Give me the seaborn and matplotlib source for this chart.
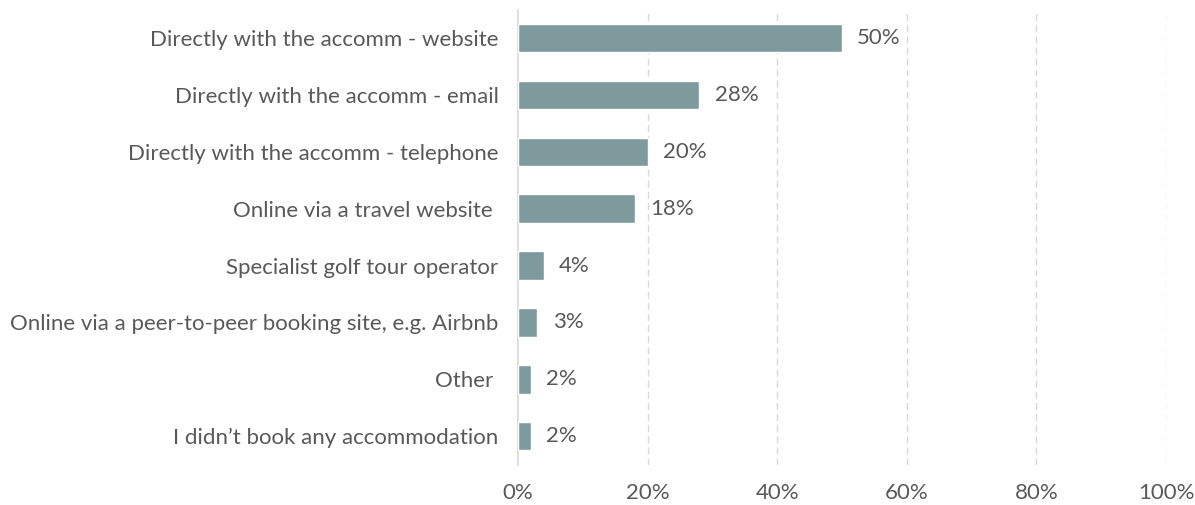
import matplotlib
matplotlib.use("Agg")
import matplotlib.pyplot as plt
import matplotlib.ticker as mticker
import seaborn as sns
import pandas as pd

categories = [
    "Directly with the accomm - website",
    "Directly with the accomm - email",
    "Directly with the accomm - telephone",
    "Online via a travel website ",
    "Specialist golf tour operator",
    "Online via a peer-to-peer booking site, e.g. Airbnb",
    "Other ",
    "I didn\u2019t book any accommodation",
]
values = [50, 28, 20, 18, 4, 3, 2, 2]
x_ticks = [0, 20, 40, 60, 80, 100]

df = pd.DataFrame({"channel": categories, "share": values})

sns.set_theme(style="white")
plt.rcParams["font.family"] = ["Lato", "DejaVu Sans"]

text_color = "#595959"
bar_color = "#7F9A9D"
grid_color = "#D9D9D9"

fig = plt.figure(figsize=(11.95, 5.05), dpi=100)
ax = fig.add_axes([0.4335, 0.080, 0.5422, 0.901])

sns.barplot(data=df, x="share", y="channel", color=bar_color, width=0.5,
            saturation=1, ax=ax, zorder=3)

ax.set_xlim(0, 100)
ax.set_ylim(len(categories) - 0.5, -0.5)
ax.set_xticks(x_ticks)
ax.xaxis.set_major_formatter(mticker.FuncFormatter(lambda v, _: f"{v:.0f}%"))
ax.set_xlabel("")
ax.set_ylabel("")

for x in x_ticks[1:]:
    ax.axvline(x, color=grid_color, lw=1, ls=(0, (5, 3)), zorder=1)

for s in ["top", "right", "bottom"]:
    ax.spines[s].set_visible(False)
ax.spines["left"].set_color(grid_color)
ax.spines["left"].set_linewidth(1.2)

ax.tick_params(axis="y", length=0, pad=14, labelsize=16, labelcolor=text_color)
ax.tick_params(axis="x", length=0, pad=13, labelsize=16, labelcolor=text_color)

for i, v in enumerate(values):
    ax.annotate(f"{v}%", xy=(v, i), xytext=(11, 0), textcoords="offset points",
                va="center", ha="left", fontsize=16, color=text_color)

fig.savefig("out.png", dpi=100)
